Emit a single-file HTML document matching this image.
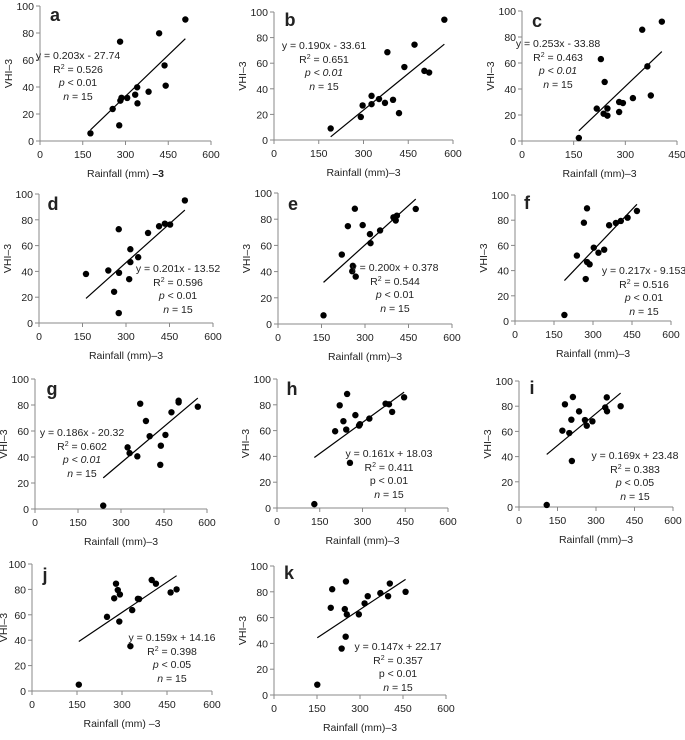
<!DOCTYPE html>
<html><head><meta charset="utf-8"><style>
body{margin:0;background:#fff;width:685px;height:735px;overflow:hidden}
svg text{font-family:"Liberation Sans",Arial,sans-serif;fill:#222}
</style></head><body>
<svg id="chart" width="685" height="735" xmlns="http://www.w3.org/2000/svg"></svg>
<script>
const aX=[177,278,255,282,286,306,334,341,342,381,281,418,437,441,510];
const aY=[5.7,11.6,23.7,29.9,32,31.9,34.3,39.8,27.9,36.5,73.6,79.8,56,41,90];
const bX=[190,291,297,327,327,352,372,399,419,380,437,471,504,520,571];
const bY=[9,18,27,28,34.5,32,29,31.4,21,68.6,57,74.5,54,52.7,94];
const cX=[165,217,237,248,248,229,240,282,293,282,322,349,364,374,406];
const cY=[2.3,24.9,21,25,19.5,63,45.4,30,29.2,22.3,33,85.6,57.4,35,91.8];
const dX=[162,239,259,275,275,276,311,315,315,342,376,414,434,452,503];
const dY=[38,40.7,24.2,7.7,72.7,38.9,34,57.2,47.2,51,69.8,75,77,76.3,95];
const eX=[157,220,241,256,258,268,265,292,317,319,352,398,406,410,475];
const eY=[6.6,53,74.7,40.3,44.4,36.2,88,75.5,68.6,61.7,71.4,81.4,79,82.7,87.8];
const fX=[190,238,265,277,277,287,272,303,321,343,362,388,407,433,469];
const fY=[4.8,51.9,78,89.4,46.8,45,33.3,58.2,54.2,56.6,76,77.8,79.4,82,87.3];
const gX=[238,323,330,357,367,387,400,439,437,455,476,501,501,568];
const gY=[2.6,47.4,43,40.5,81,67.7,56,48.7,34,57,74.4,83.3,82,78.7];
const hX=[131,204,220,233,243,246,256,275,288,291,324,381,393,404,446];
const hY=[3,59.5,79.6,67.3,60.8,88.4,35,72,63.9,65,69.3,80.9,80.4,74.5,85.8];
const iX=[108,169,179,196,204,206,210,234,257,264,286,336,342,343,396];
const iY=[1.6,60.6,81.5,58.7,69.3,36.5,87.3,75.9,69,64.5,68,79,87,76,80];
const jX=[156,250,274,280,286,293,291,328,334,353,357,399,413,462,482];
const jY=[5,58.4,73,84.5,79.5,76,54.7,35.3,63.7,72.6,72.4,87.4,84.5,77.6,80];
const kX=[151,198,203,236,247,251,250,254,296,316,327,371,398,404,459];
const kY=[8,67.6,82,36,66.6,88,45.2,62.5,62.5,71,76.6,79,76.6,86.4,80];
const slopes=[0.203,0.190,0.253,0.201,0.200,0.217,0.186,0.161,0.169,0.159,0.147];
const intercepts=[-27.74,-33.61,-33.88,-13.52,0.378,-9.153,-20.32,18.03,23.48,14.16,22.17];
const eqLabels=["y = 0.203x - 27.74","y = 0.190x - 33.61","y = 0.253x - 33.88","y = 0.201x - 13.52","y = 0.200x + 0.378","y = 0.217x - 9.153","y = 0.186x - 20.32","y = 0.161x + 18.03","y = 0.169x + 23.48","y = 0.159x + 14.16","y = 0.147x + 22.17"];
const r2Labels=["0.526","0.651","0.463","0.596","0.544","0.516","0.602","0.411","0.383","0.398","0.357"];
const pLabels=["< 0.01","< 0.01","< 0.01","< 0.01","< 0.01","< 0.01","< 0.01","< 0.01","< 0.05","< 0.05","< 0.01"];
const yTicks=[0,20,40,60,80,100];
const xTicks600=[0,150,300,450,600];
const xTicks450=[0,150,300,450];
const letters=["a","b","c","d","e","f","g","h","i","j","k"];
const allX=[aX,bX,cX,dX,eX,fX,gX,hX,iX,jX,kX];
const allY=[aY,bY,cY,dY,eY,fY,gY,hY,iY,jY,kY];
const L=[
[40,211,600,6,141,78,55,55,15,true,false,"Rainfall (mm) ","–3"],
[274,453,600,12,140,324,45,290,20,true,true,"Rainfall (mm)–3",""],
[522,677,450,11,141,558,43,537,21,true,true,"Rainfall (mm)–3",""],
[39,213,600,194,323,178,268,53,204,true,false,"Rainfall (mm)–3",""],
[278,452,600,193,324,395,267,293,204,true,false,"Rainfall (mm)–3",""],
[515,671,600,195,321,644,270,527,203,true,false,"Rainfall (mm)–3",""],
[35,207,600,379,509,82,432,52,389,true,true,"Rainfall (mm)–3",""],
[277,448,600,379,508,389,453,292,389,false,false,"Rainfall (mm)–3",""],
[519,673,600,381,507,635,455,532,388,true,false,"Rainfall (mm)–3",""],
[32,212,600,564,691,172,637,45,575,true,false,"Rainfall (mm) –3",""],
[274,446,600,566,695,398,646,289,573,false,false,"Rainfall (mm)–3",""]
];
const NS="http://www.w3.org/2000/svg";
const svg=document.getElementById('chart');
function mk(tag,attrs,parent,txt){const e=document.createElementNS(NS,tag);for(const k in attrs)e.setAttribute(k,attrs[k]);if(txt!==undefined)e.textContent=txt;parent.appendChild(e);return e;}
L.forEach((c,i)=>{
  const [x0,x1,xmax,yT,yB,tx,ty,lx,ly,pIt,pNumIt,xl,xlb]=c;
  const sx=v=>x0+(v/xmax)*(x1-x0);
  const sy=v=>yB-(v/100)*(yB-yT);
  const g=mk('g',{},svg);
  
  
  const ax=mk('path',{d:`M${x0},${yT}V${yB}H${x1}`,stroke:'#888',fill:'none','stroke-width':1},g);
  
  
  yTicks.forEach(t=>{
    mk('line',{x1:x0-4,x2:x0,y1:sy(t),y2:sy(t),stroke:'#888'},g);
    const tl=mk('text',{x:x0-6,y:sy(t)+4,'text-anchor':'end','font-size':10.5},g,String(t));
    
    
  });
  (xmax===450?xTicks450:xTicks600).forEach(t=>{
    mk('line',{x1:sx(t),x2:sx(t),y1:yB,y2:yB+4,stroke:'#888'},g);
    const tl=mk('text',{x:sx(t),y:yB+17,'text-anchor':'middle','font-size':10.5},g,String(t));
    
    
  });
  const xt=mk('text',{x:(x0+x1)/2,y:yB+36,'text-anchor':'middle','font-size':10.5},g,xl);
  
  
  if(xlb){mk('tspan',{'font-weight':'bold'},xt,xlb);}
  const ytx=Math.max(7,x0-28);
  const yt=mk('text',{x:0,y:0,'text-anchor':'middle','font-size':10.5,transform:`translate(${ytx},${(yT+yB)/2}) rotate(-90)`},g,'VHI–3');
  
  
  const lt=mk('text',{x:lx,y:ly+6,'text-anchor':'middle','font-size':18,'font-weight':'bold'},g,letters[i]);
  
  
  const xs=allX[i],ys=allY[i];
  const mn=Math.min(...xs),mxv=Math.max(...xs);
  const ln=mk('line',{x1:sx(mn),y1:sy(slopes[i]*mn+intercepts[i]),x2:sx(mxv),y2:sy(slopes[i]*mxv+intercepts[i]),stroke:'#000','stroke-width':1.2},g);
  
  
  xs.forEach((v,j)=>{
    const p=mk('circle',{cx:sx(v),cy:sy(ys[j]),r:3.2,fill:'#000'},g);
    
    
  });
  const fs=10.5;
  const t1=mk('text',{x:tx,y:ty+4,'text-anchor':'middle','font-size':fs},g,eqLabels[i]);
  
  
  const t2=mk('text',{x:tx,y:ty+18,'text-anchor':'middle','font-size':fs},g,'R');
  
  
  mk('tspan',{'font-size':7,dy:-4},t2,'2');
  mk('tspan',{dy:4},t2,' = '+r2Labels[i]);
  const t3=mk('text',{x:tx,y:ty+31,'text-anchor':'middle','font-size':fs},g);
  
  
  mk('tspan',pIt?{'font-style':'italic'}:{},t3,'p');
  mk('tspan',pNumIt?{'font-style':'italic'}:{},t3,' '+pLabels[i]);
  const t4=mk('text',{x:tx,y:ty+45,'text-anchor':'middle','font-size':fs},g);
  
  
  mk('tspan',{'font-style':'italic'},t4,'n');
  mk('tspan',{},t4,' = 15');
});
</script>
</body></html>
